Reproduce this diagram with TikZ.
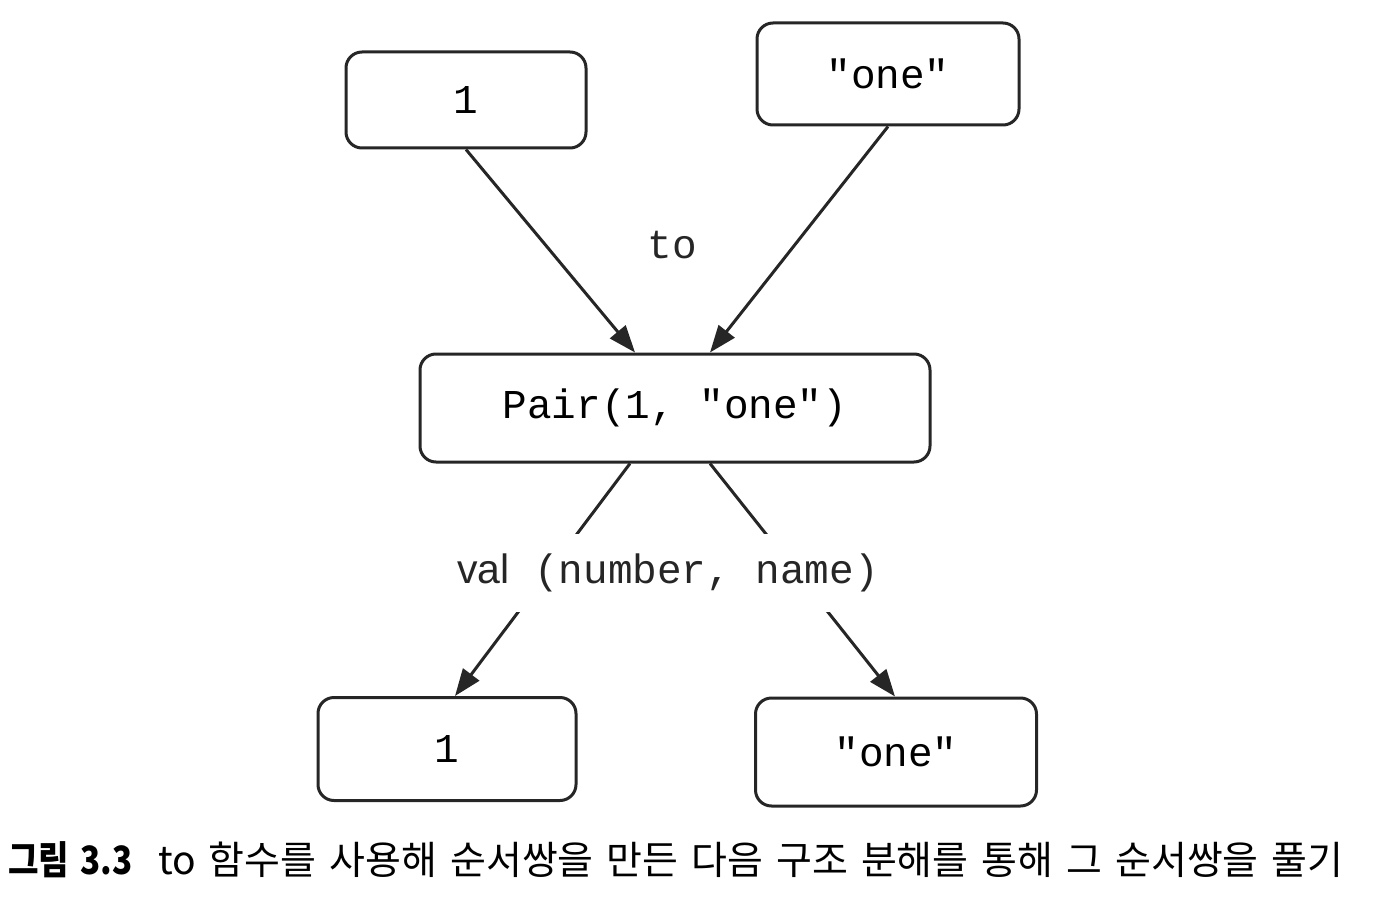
\documentclass[tikz,border=0pt]{standalone}
\usepackage{fontspec}
\setmainfont{Liberation Sans}
\setmonofont{Liberation Mono}
\newfontfamily\krfont{Noto Sans CJK KR}
\usetikzlibrary{arrows.meta}
\begin{document}
\begin{tikzpicture}[x=1pt,y=-1pt,
  box/.style={draw=black!85, line width=3pt, rounded corners=16pt, font=\ttfamily\fontsize{41}{44}\selectfont, inner sep=0pt},
  arr/.style={line width=3pt, draw=black!85, -{Triangle[length=27pt,width=20pt]}},
  lbl/.style={font=\ttfamily\fontsize{41}{44}\selectfont, text=black!85}]
\useasboundingbox (0,0) rectangle (1400,915);
\node[box, minimum width=240pt, minimum height=96pt] (t1) at (466,100) {1};
\node[box, minimum width=262pt, minimum height=102pt] (t2) at (888,74) {"one"};
\node[box, minimum width=510pt, minimum height=108pt] (pair) at (675,408) {Pair(1, "one")};
\node[box, minimum width=258pt, minimum height=103pt] (b1) at (447,749) {1};
\node[box, minimum width=281pt, minimum height=108pt] (b2) at (896,752) {"one"};
\node[lbl] (to) at (672,245) {to};
\draw[arr] (t1.south) -- ([xshift=-40pt]pair.north);
\draw[arr] (t2.south) -- ([xshift=35pt]pair.north);
\draw[arr] ([xshift=-45pt]pair.south) -- ([xshift=8pt]b1.north);
\draw[arr] ([xshift=35pt]pair.south) -- ([xshift=-1pt]b2.north);
\node[lbl, fill=white, inner xsep=4pt, inner ysep=20pt] (val) at (668,573) {{\rmfamily val} (number, name)};
\node[anchor=west, inner sep=0pt] (cap) at (8,860) {\krfont\fontsize{39}{44}\selectfont\spaceskip=13pt\scalebox{0.85}[1]{\textbf{그림 3.3}}\hspace{26pt}to 함수를 사용해 순서쌍을 만든 다음 구조 분해를 통해 그 순서쌍을 풀기};
\end{tikzpicture}
\end{document}
